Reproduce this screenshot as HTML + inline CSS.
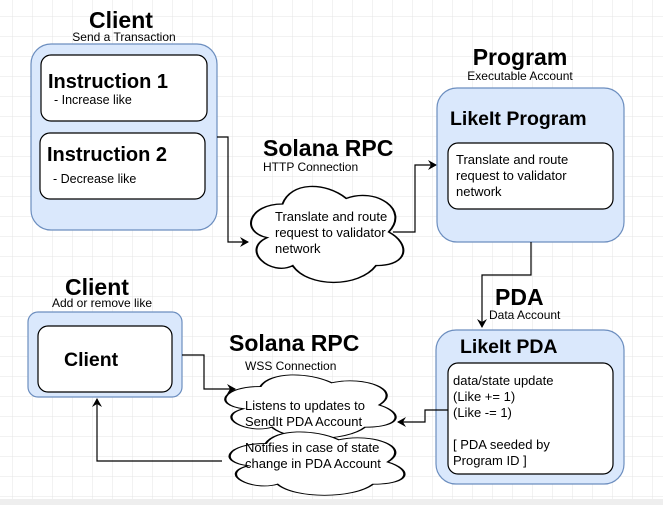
<!DOCTYPE html>
<html><head><meta charset="utf-8"><style>
html,body{margin:0;padding:0;background:#fff;}
svg{display:block;font-family:"Liberation Sans",Arial,sans-serif;}
</style></head><body>
<svg width="663" height="505" viewBox="0 0 663 505" xmlns="http://www.w3.org/2000/svg">
<defs>
<pattern id="g" width="20" height="20" patternUnits="userSpaceOnUse" x="-7" y="-3">
<path d="M20 0 V20 M0 20 H20" fill="none" stroke="#e4e4e4" stroke-width="1"/>
</pattern>
<marker id="a" markerWidth="10" markerHeight="10" refX="8" refY="5" orient="auto" markerUnits="userSpaceOnUse">
<path d="M0,0 L9,5 L0,10 L3,5 Z" fill="#000"/>
</marker>
<path id="cl" d="M25,25 C5,25 0,50 16,55 C0,66 18,90 31,80 C40,100 70,100 80,80 C100,80 100,60 87.5,50 C100,30 80,10 62.5,20 C50,5 30,5 25,25Z"/>
</defs>
<rect width="663" height="505" fill="url(#g)"/>
<rect x="0" y="499" width="663" height="6" fill="#eeeeee"/>

<!-- Client top -->
<text x="121" y="28" font-size="23" font-weight="bold" text-anchor="middle">Client</text>
<text x="124" y="41" font-size="12" text-anchor="middle">Send a Transaction</text>
<rect x="31" y="44" width="186" height="186" rx="20" fill="#dae8fc" stroke="#6c8ebf" stroke-width="1.2"/>
<rect x="41" y="55" width="166" height="66" rx="10" fill="#fff" stroke="#000" stroke-width="1.2"/>
<text x="48" y="88" font-size="20" font-weight="bold">Instruction 1</text>
<text x="54" y="104" font-size="12.5">- Increase like</text>
<rect x="40" y="133" width="165" height="66" rx="10" fill="#fff" stroke="#000" stroke-width="1.2"/>
<text x="47" y="161" font-size="20" font-weight="bold">Instruction 2</text>
<text x="53" y="183" font-size="12.5">- Decrease like</text>

<path d="M217,137 H228 V242 H248" fill="none" stroke="#000" stroke-width="1.2" marker-end="url(#a)"/>

<!-- Solana RPC HTTP -->
<text x="263" y="156" font-size="23" font-weight="bold">Solana RPC</text>
<text x="263" y="171" font-size="12">HTTP Connection</text>
<use href="#cl" transform="translate(240,176) scale(1.7,1.12)" fill="#fff" stroke="#000" stroke-width="1.2" vector-effect="non-scaling-stroke"/>
<text x="275" y="221" font-size="13">Translate and route</text>
<text x="275" y="237" font-size="13">request to validator</text>
<text x="275" y="253" font-size="13">network</text>

<path d="M393,232 H415 V165 H436" fill="none" stroke="#000" stroke-width="1.2" marker-end="url(#a)"/>

<!-- Program -->
<text x="520" y="65" font-size="23" font-weight="bold" text-anchor="middle">Program</text>
<text x="520" y="80" font-size="12" text-anchor="middle">Executable Account</text>
<rect x="437" y="88" width="187" height="154" rx="20" fill="#dae8fc" stroke="#6c8ebf" stroke-width="1.2"/>
<text x="450" y="125" font-size="19.5" font-weight="bold">LikeIt Program</text>
<rect x="448" y="143" width="165" height="66" rx="10" fill="#fff" stroke="#000" stroke-width="1.2"/>
<text x="456" y="164" font-size="13">Translate and route</text>
<text x="456" y="180" font-size="13">request to validator</text>
<text x="456" y="196" font-size="13">network</text>

<path d="M531,242 V275 H482 V327" fill="none" stroke="#000" stroke-width="1.2" marker-end="url(#a)"/>

<!-- PDA -->
<text x="495" y="305" font-size="23" font-weight="bold">PDA</text>
<text x="489" y="319" font-size="12">Data Account</text>
<rect x="436" y="330" width="188" height="154" rx="20" fill="#dae8fc" stroke="#6c8ebf" stroke-width="1.2"/>
<text x="460" y="353" font-size="19.5" font-weight="bold">LikeIt PDA</text>
<rect x="448" y="363" width="165" height="111" rx="10" fill="#fff" stroke="#000" stroke-width="1.2"/>
<text x="453" y="385" font-size="13">data/state update</text>
<text x="453" y="401" font-size="13">(Like += 1)</text>
<text x="453" y="417" font-size="13">(Like -= 1)</text>
<text x="453" y="449" font-size="13">[ PDA seeded by</text>
<text x="453" y="465" font-size="13">Program ID ]</text>

<path d="M448,410 H425 V422 H398" fill="none" stroke="#000" stroke-width="1.2" marker-end="url(#a)"/>

<!-- Client bottom -->
<text x="97" y="295" font-size="23" font-weight="bold" text-anchor="middle">Client</text>
<text x="102" y="307" font-size="12" text-anchor="middle">Add or remove like</text>
<rect x="28" y="312" width="154" height="85" rx="10" fill="#dae8fc" stroke="#6c8ebf" stroke-width="1.2"/>
<rect x="38" y="326" width="134" height="66" rx="10" fill="#fff" stroke="#000" stroke-width="1.2"/>
<text x="64" y="366" font-size="19.5" font-weight="bold">Client</text>

<path d="M182,355 H204 V389 H235" fill="none" stroke="#000" stroke-width="1.2" marker-end="url(#a)"/>

<!-- Solana RPC WSS -->
<text x="229" y="351" font-size="23" font-weight="bold">Solana RPC</text>
<text x="245" y="370" font-size="12">WSS Connection</text>
<use href="#cl" transform="translate(213,368) scale(1.9,0.74)" fill="#fff" stroke="#000" stroke-width="1.2" vector-effect="non-scaling-stroke"/>
<use href="#cl" transform="translate(217,425) scale(1.95,0.74)" fill="#fff" stroke="#000" stroke-width="1.2" vector-effect="non-scaling-stroke"/>
<text x="245" y="410" font-size="13">Listens to updates to</text>
<text x="245" y="426" font-size="13">SendIt PDA Account</text>
<text x="245" y="452" font-size="13">Notifies in case of state</text>
<text x="245" y="468" font-size="13">change in PDA Account</text>

<path d="M222,461 H97 V399" fill="none" stroke="#000" stroke-width="1.2" marker-end="url(#a)"/>
</svg>
</body></html>
